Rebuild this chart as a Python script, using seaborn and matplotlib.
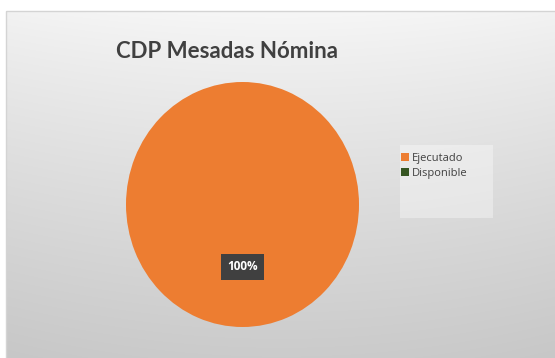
import numpy as np
import matplotlib
matplotlib.use("Agg")
import matplotlib.pyplot as plt
from matplotlib.patches import Rectangle
import seaborn as sns

# Chart data
categories = ["Ejecutado", "Disponible"]
values = [100, 0]
title = "CDP Mesadas Nómina"

sns.set_theme(style="white")
plt.rcParams["font.family"] = ["Open Sans", "DejaVu Sans"]
palette = sns.color_palette(["#ED7D31", "#375623"])

W, H = 555, 358
fig = plt.figure(figsize=(W / 100, H / 100), dpi=100)
fig.patch.set_facecolor("white")

# Background panel with a soft vertical gradient
bg = fig.add_axes([0, 0, 1, 1])
bg.set_xlim(0, W)
bg.set_ylim(H, 0)
bg.axis("off")
ny, nx = 200, 200
yy = np.linspace(0, 1, ny)[:, None]
xx = np.linspace(-1, 1, nx)[None, :]
top, bottom = 0.965, 0.795
shade = top - (top - bottom) * yy ** 0.9 - 0.015 * xx ** 2
img = np.dstack([shade, shade, shade]).clip(0, 1)
bg.imshow(img, extent=(6, W + 2, H + 2, 11), aspect="auto", zorder=0, interpolation="bilinear")
bg.add_patch(Rectangle((6, 11), W + 10, H + 10, fill=False, ec="#d4d4d4", lw=1, zorder=1))

# Legend panel
bg.add_patch(Rectangle((400, 145), 93, 73, fc="white", ec="none", alpha=0.35, zorder=1))

fig.text(227 / W, 1 - 51 / H, title, ha="center", va="center",
         fontsize=16, fontweight="bold", color="#404040", family=["Lato", "DejaVu Sans"])

# Pie
ax = fig.add_axes([126 / W, 1 - 327 / H, 233 / W, 245 / H])
ax.patch.set_alpha(0)


def pct_label(p):
    return f"{p:.0f}%" if p > 0 else ""


wedges, _, autotexts = ax.pie(
    values, colors=palette, startangle=90, counterclock=False,
    autopct=pct_label, pctdistance=0.51, radius=1,
    wedgeprops=dict(linewidth=0),
    textprops=dict(color="white", fontsize=8.5, fontweight="bold"),
)
for t in autotexts:
    if t.get_text():
        t.set_bbox(dict(boxstyle="square,pad=0.55", fc="#404040", ec="none"))
ax.set_aspect("auto")
ax.set_xlim(-1, 1)
ax.set_ylim(-1, 1)
ax.axis("off")

fig.legend(wedges, categories, loc="upper left",
           bbox_to_anchor=(393 / W, 1 - 145 / H), frameon=False,
           fontsize=8, handlelength=0.75, handleheight=0.75, handletextpad=0.25,
           labelspacing=0.35, borderpad=0.2, labelcolor="#404040")

fig.savefig("out.png", dpi=100)
